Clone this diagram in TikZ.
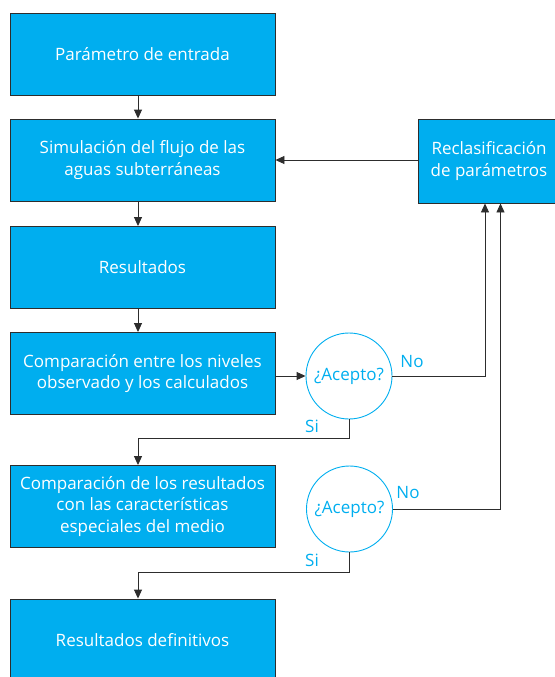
\documentclass[tikz,border=0pt]{standalone}
\usepackage{fontspec}
\setmainfont{Open Sans}
\usetikzlibrary{arrows.meta}
\definecolor{azul}{RGB}{0,174,239}
\definecolor{borde}{RGB}{45,45,45}
\begin{document}
\begin{tikzpicture}[x=1pt,y=-1pt,
        caja/.style={draw=borde,fill=azul,text=white,line width=0.9pt,minimum width=265pt,minimum height=82pt,inner sep=0pt,align=center,font=\fontsize{17}{21.5}\selectfont},
        acepto/.style={draw=azul,circle,text=azul,line width=0.9pt,minimum size=86pt,inner sep=0pt,font=\fontsize{17}{21}\selectfont},
        rotulo/.style={text=azul,font=\fontsize{17}{21}\selectfont},
        linea/.style={draw=borde,line width=0.9pt},
        flecha/.style={linea,-{Triangle[length=9pt,width=8pt]}}]
    \useasboundingbox (0,0) rectangle (554,677);
    \coordinate (eje) at (138,0);
    % columna principal
    \node [caja] (entrada) at (142.5,54) {Parámetro de entrada};
    \node [caja] (simulacion) at (142.5,160) {Simulación del flujo de las\\aguas subterráneas};
    \node [caja] (resultados) at (142.5,267.5) {Resultados};
    \node [caja] (comparacion) at (142.5,373.5) {Comparación entre los niveles\\observado y los calculados};
    \node [caja] (medio) at (142.5,506.5) {Comparación de los resultados\\con las características\\especiales del medio};
    \node [caja] (definitivos) at (142.5,640) {Resultados definitivos};
    \node [caja,minimum width=142pt,minimum height=84pt] (reclas) at (489,161) {Reclasificación\\de parámetros};
    % decisiones
    \node [acepto] (acepto1) at (349,376) {¿Acepto?};
    \node [acepto] (acepto2) at (349.5,509) {¿Acepto?};
    \coordinate (no1) at (485,0);
    \coordinate (no2) at (500.5,0);
    % flechas
    \draw [flecha] (entrada.south -| eje) -- (simulacion.north -| eje);
    \draw [flecha] (simulacion.south -| eje) -- (resultados.north -| eje);
    \draw [flecha] (resultados.south -| eje) -- (comparacion.north -| eje);
    \draw [flecha] (reclas.west |- simulacion) -- (simulacion.east);
    \draw [flecha] (comparacion.east |- acepto1) -- (acepto1.west);
    \draw [flecha] (acepto1.east) -- (acepto1.east -| no1) -- (reclas.south -| no1);
    \draw [flecha] (acepto2.east) -- (acepto2.east -| no2) -- (reclas.south -| no2);
    \draw [flecha] (acepto1.south) -- ++(0,19) -| (medio.north -| eje);
    \draw [flecha] (acepto2.south) -- ++(0,20) -| (definitivos.north -| eje);
    % etiquetas
    \node [rotulo] (no1txt) at (412,362) {No};
    \node [rotulo] (si1txt) at (312,426) {Si};
    \node [rotulo] (no2txt) at (408,493) {No};
    \node [rotulo] (si2txt) at (312,560) {Si};
\end{tikzpicture}
\end{document}
